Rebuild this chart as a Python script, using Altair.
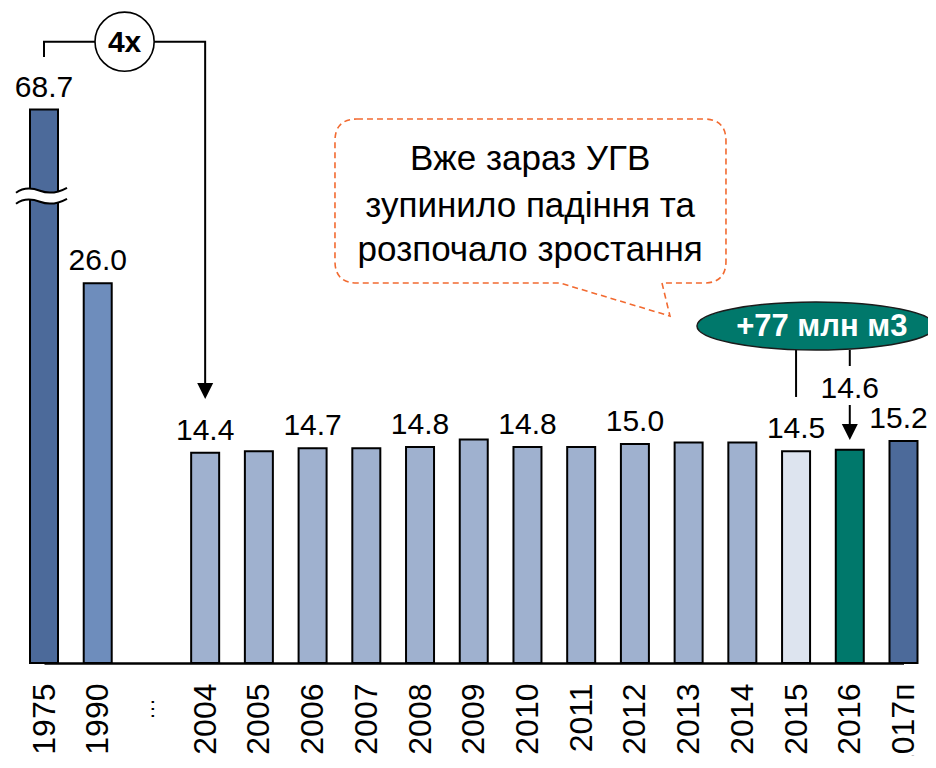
import json
import altair as alt
import pandas as pd

# ---------------- data ----------------
categories = ["1975", "1990", "…", "2004", "2005", "2006", "2007", "2008", "2009",
              "2010", "2011", "2012", "2013", "2014", "2015", "2016", "2017п"]
values = [68.7, 26.0, None, 14.4, 14.5, 14.7, 14.7, 14.8, 15.3,
          14.8, 14.8, 15.0, 15.1, 15.1, 14.5, 14.6, 15.2]
labelled = ["1975", "1990", "2004", "2006", "2008", "2010", "2012", "2015"]
edge_label = "2017п"
highlight_label = "2016"
bar_colors = ["#4c6a9a", "#6e8dbc", None, "#9fb1cf", "#9fb1cf", "#9fb1cf", "#9fb1cf",
              "#9fb1cf", "#9fb1cf", "#9fb1cf", "#9fb1cf", "#9fb1cf", "#9fb1cf",
              "#9fb1cf", "#dde4ef", "#00786b", "#4c6a9a"]
break_cap = 37.9          # the 1975 bar is drawn broken at this height
callout_lines = ["Вже зараз УГВ", "зупинило падіння та", "розпочало зростання"]
bubble_text = "+77 млн м3"
ratio_text = "4x"

FONT = "Liberation Sans"
TEAL = "#00786b"
ORANGE = "#f26a30"

rows = []
for i, (c, v, col) in enumerate(zip(categories, values, bar_colors)):
    if v is None:
        continue
    rows.append({"slot": i, "cat": c, "value": v, "shown": min(v, break_cap),
                 "color": col, "label": f"{v:.1f}"})
bars_df = pd.DataFrame(rows)
gap_df = pd.DataFrame({"slot": [i for i, v in enumerate(values) if v is None],
                       "t": [c for c, v in zip(categories, values) if v is None],
                       "y": [-3.15 for v in values if v is None]})

X_SCALE = alt.Scale(domain=[0, len(categories) - 1], range=[28, 887.5], nice=False,
                    zero=False, padding=0)
Y_SCALE = alt.Scale(domain=[0, 44.86], nice=False, zero=True, padding=0)

axis_texts = [c if v is not None else "" for c, v in zip(categories, values)]
label_expr = json.dumps(axis_texts, ensure_ascii=False) + "[datum.value]"
x_axis = alt.Axis(values=list(range(len(categories))), labelExpr=label_expr, labelAngle=270,
                  labelAlign="right", labelBaseline="middle", labelFontSize=32, labelFont=FONT,
                  labelColor="black", labelPadding=20, ticks=False, grid=False,
                  domainColor="black", domainWidth=2.5, labelOverlap=False, labelBound=False,
                  labelFlush=False, title=None)


def X(field="slot"):
    return alt.X(f"{field}:Q", scale=X_SCALE, axis=x_axis, title=None)


def Y(field="y"):
    return alt.Y(f"{field}:Q", scale=Y_SCALE, axis=None, title=None)


# ---------------- bars ----------------
bars = alt.Chart(bars_df).mark_bar(size=28, stroke="black", strokeWidth=2).encode(
    x=X("slot"), y=Y("shown"), color=alt.Color("color:N", scale=None))

labels = alt.Chart(bars_df[bars_df["cat"].isin(labelled)]).mark_text(
    font=FONT, fontSize=30, color="black", align="center", baseline="alphabetic", dy=-13
).encode(x=X("slot"), y=Y("shown"), text="label:N")

label_edge = alt.Chart(bars_df[bars_df["cat"] == edge_label]).mark_text(
    font=FONT, fontSize=30, color="black", align="center", baseline="alphabetic", dy=-13, dx=-5
).encode(x=X("slot"), y=Y("shown"), text="label:N")

label16 = alt.Chart(bars_df[bars_df["cat"] == highlight_label]).mark_text(
    font=FONT, fontSize=30, color="black", align="center", baseline="alphabetic", dy=-52
).encode(x=X("slot"), y=Y("shown"), text="label:N")

gap_txt = alt.Chart(gap_df).mark_text(
    font=FONT, fontSize=22, color="black", align="center", baseline="alphabetic", angle=270, dx=0, dy=3
).encode(x=X("slot"), y=Y("y"), text="t:N")

# ---------------- axis break on 1975 ----------------
break_df = pd.DataFrame({"slot": [0], "y": [32.0]})
band_path = ("M-28,-3 C-20,-9 -12,-8 -4,-5 S12,-2 23,-8 L23,3 "
             "C12,9 4,9 -4,6 C-12,3 -20,2 -28,8 Z")
wave_path = "M-28,-3 C-20,-9 -12,-8 -4,-5 S12,-2 23,-8 M-28,8 C-20,2 -12,3 -4,6 S12,9 23,3"
brk_band = alt.Chart(break_df).mark_point(shape=band_path, size=4, filled=True, fill="white",
                                          strokeWidth=0, opacity=1).encode(x=X(), y=Y())
brk_wave = alt.Chart(break_df).mark_point(shape=wave_path, size=4, filled=False, stroke="black",
                                          strokeWidth=2, opacity=1).encode(x=X(), y=Y())

# ---------------- 4x bracket ----------------
bracket_df = pd.DataFrame({"slot": [0, 0, 3, 3], "y": [41.5, 42.55, 42.55, 18.6], "o": [0, 1, 2, 3]})
bracket = alt.Chart(bracket_df).mark_line(color="black", strokeWidth=2).encode(
    x=X(), y=Y(), order="o:Q")
arrow_path = "M-8,-16 L8,-16 L0,0 Z"
heads_df = pd.DataFrame({"slot": [3, 15], "y": [18.08, 15.27]})
heads = alt.Chart(heads_df).mark_point(shape=arrow_path, size=4, filled=True, fill="black",
                                       strokeWidth=0, opacity=1).encode(x=X(), y=Y())
circle_df = pd.DataFrame({"slot": [1.5], "y": [42.55], "t": [ratio_text]})
circle = alt.Chart(circle_df).mark_point(shape="circle", size=3500, filled=True, fill="white",
                                         stroke="black", strokeWidth=1.6, opacity=1).encode(x=X(), y=Y())
circle_txt = alt.Chart(circle_df).mark_text(font=FONT, fontSize=30, fontWeight="bold", color="black",
                                            align="center", baseline="middle", dy=1).encode(
    x=X(), y=Y(), text="t:N")

# ---------------- callout ----------------
callout_path = ("M-173.5,-82 L173.5,-82 Q195.5,-82 195.5,-60 L195.5,60 Q195.5,82 173.5,82 "
                "L131.5,82 L139.5,115 L29.5,82 L-173.5,82 Q-195.5,82 -195.5,60 L-195.5,-60 "
                "Q-195.5,-82 -173.5,-82 Z")
callout_df = pd.DataFrame({"slot": [9.056], "y": [31.64]})
callout = alt.Chart(callout_df).mark_point(shape=callout_path, size=4, filled=True, fill="white",
                                           stroke=ORANGE, strokeWidth=1.6, strokeDash=[6, 4],
                                           opacity=1).encode(x=X(), y=Y())
callout_txt_df = pd.DataFrame({"slot": [9.05] * 3, "y": [33.77, 30.55, 27.53], "t": callout_lines})
callout_txt = alt.Chart(callout_txt_df).mark_text(font=FONT, fontSize=35, color="black",
                                                  align="center", baseline="alphabetic").encode(
    x=X(), y=Y(), text="t:N")

# ---------------- +77 bubble ----------------
rules_df = pd.DataFrame({"slot": [14, 15, 15], "y": [21.44, 21.44, 17.67], "y2": [18.22, 20.34, 16.2]})
rules = alt.Chart(rules_df).mark_rule(color="black", strokeWidth=2).encode(
    x=X(), y=Y(), y2="y2:Q")
ellipse_path = "M-119,0 A119,24 0 1,0 119,0 A119,24 0 1,0 -119,0 Z"
bubble_df = pd.DataFrame({"slot": [14.371], "y": [23.08], "t": [bubble_text]})
bubble = alt.Chart(bubble_df).mark_point(shape=ellipse_path, size=4, filled=True, fill=TEAL,
                                         stroke="#1b1b1b", strokeWidth=1.5, opacity=1).encode(x=X(), y=Y())
bubble_txt = alt.Chart(pd.DataFrame({"slot": [14.48], "y": [23.08], "t": [bubble_text]})).mark_text(
    font=FONT, fontSize=31, fontWeight="bold", color="white", align="center", baseline="middle", dy=1
).encode(x=X(), y=Y(), text="t:N")

chart = alt.layer(
    bars, callout, callout_txt, brk_band, brk_wave, labels, label_edge, label16, gap_txt,
    bracket, heads, circle, circle_txt, rules, bubble, bubble_txt
).properties(
    width=912, height=655,
    padding={"left": 8, "top": 0, "right": 0, "bottom": 93},
    autosize=alt.AutoSizeParams(type="none"),
).configure(font=FONT).configure_view(stroke=None)

chart.save("out.html", embed_options={"renderer": "svg", "actions": False})
